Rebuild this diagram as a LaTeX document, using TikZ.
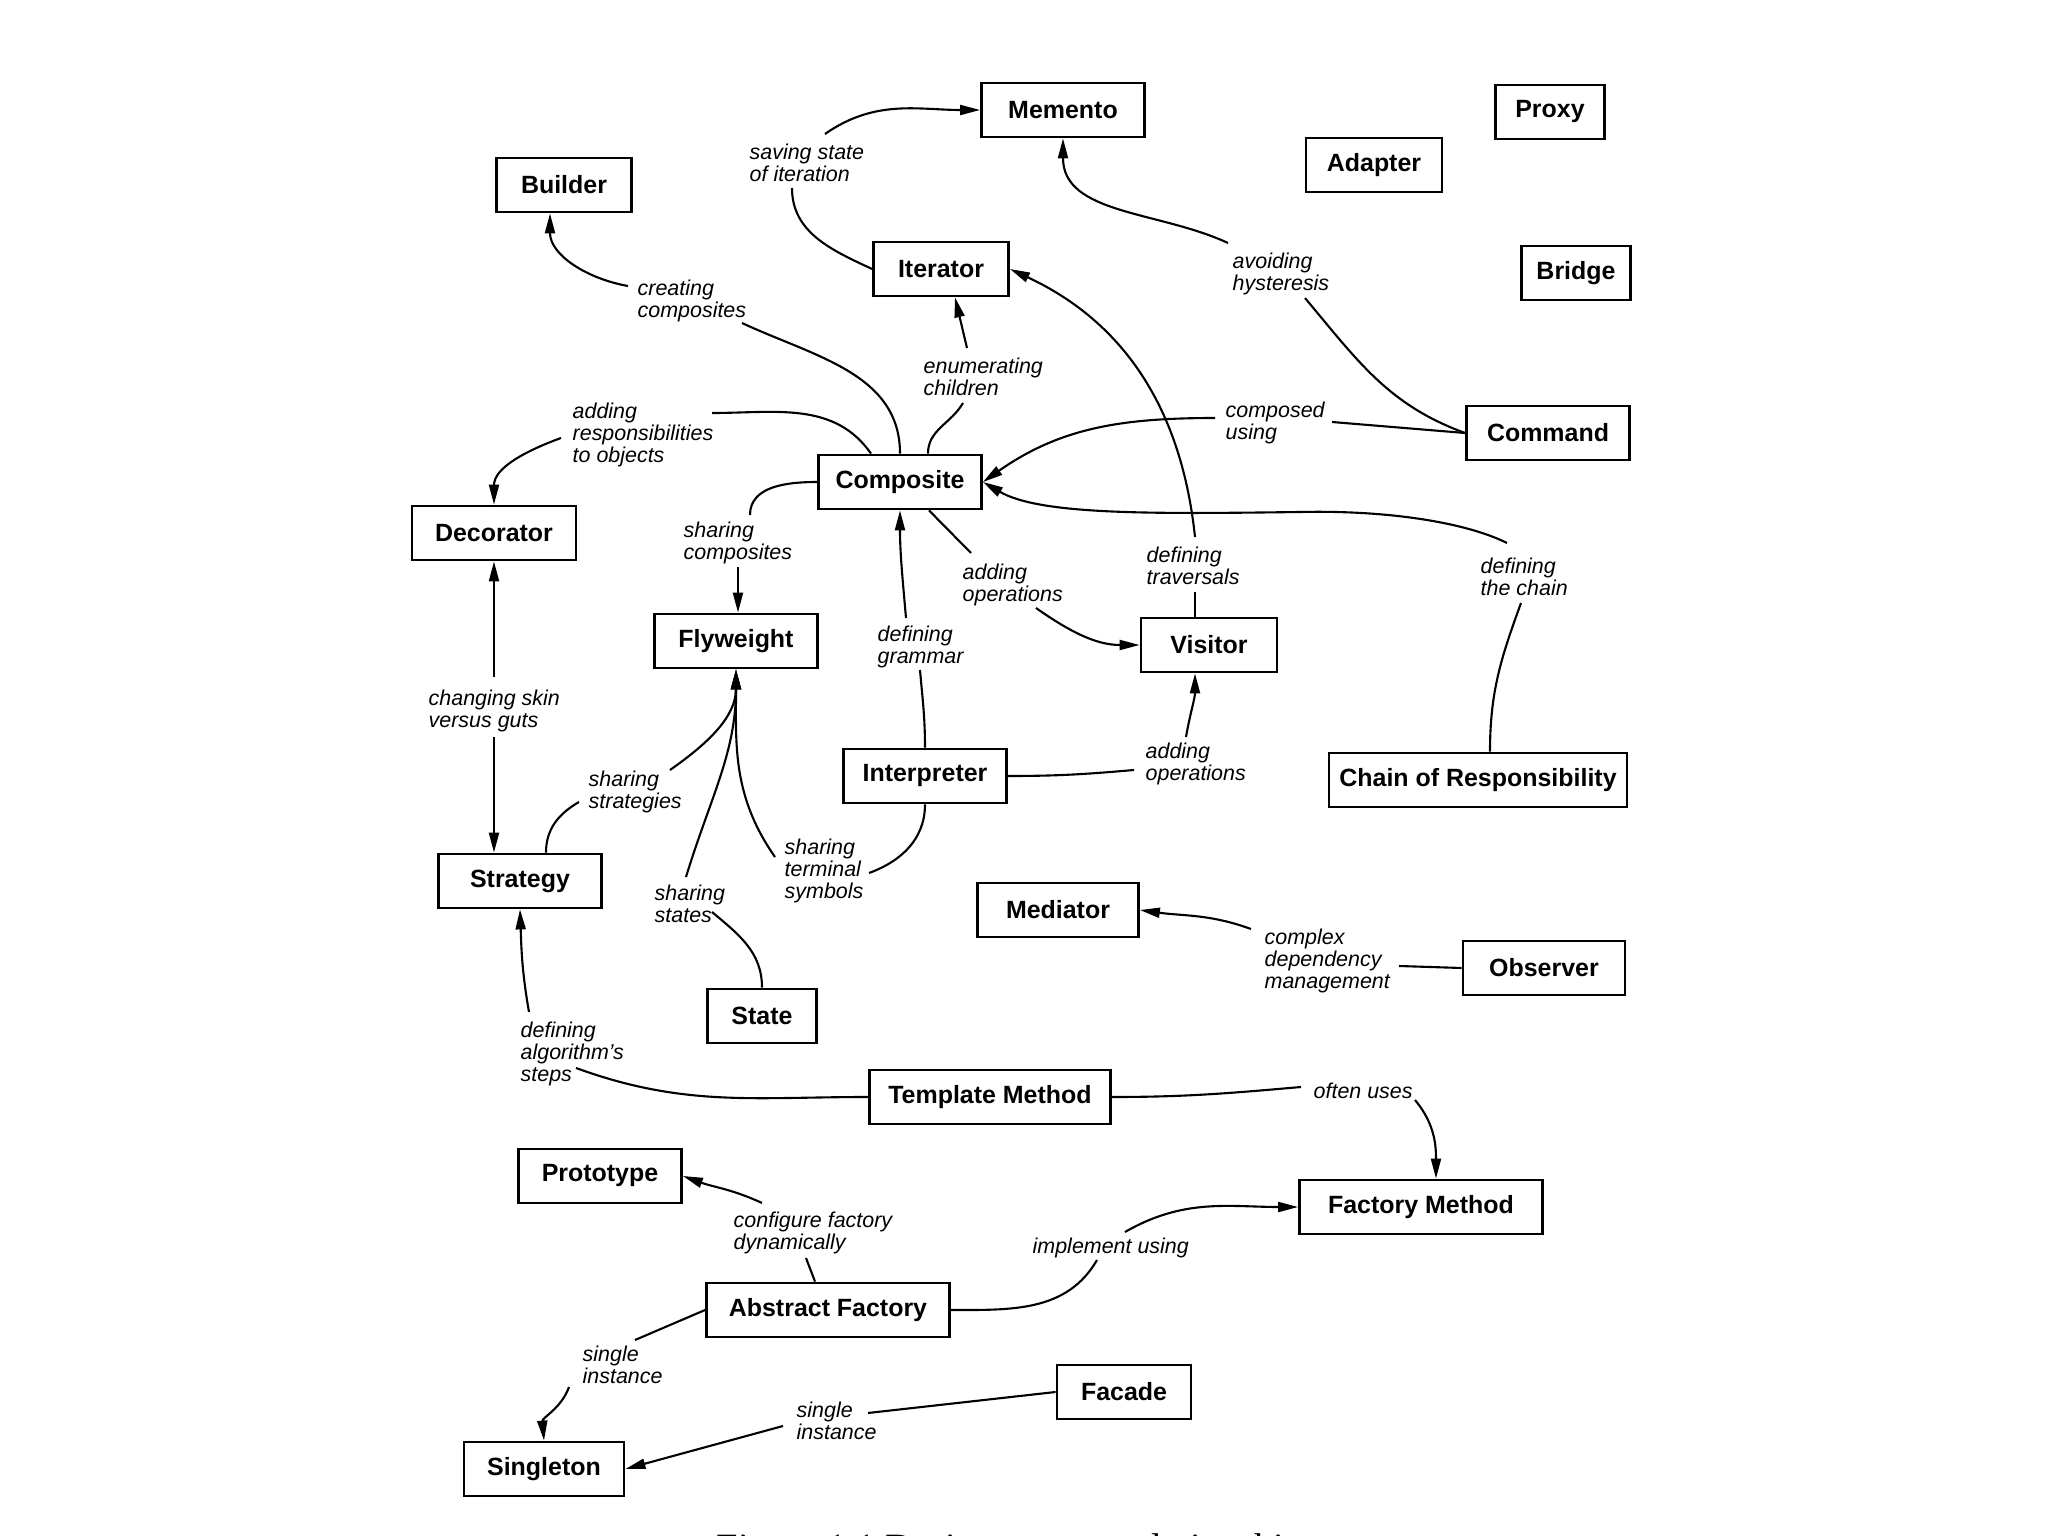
\documentclass[tikz,border=0pt]{standalone}
\usepackage{fontspec}
\setmainfont{Liberation Sans}
\newfontfamily\capfont{Liberation Serif}
\usetikzlibrary{arrows.meta}

\begin{document}
\begin{tikzpicture}[
	pat/.style={draw,line width=0.8pt,inner sep=0,minimum height=5.4mm,font=\bfseries\fontsize{7.1}{8.5}\selectfont},
	lab/.style={anchor=north west,inner sep=0,align=left,font=\itshape\fontsize{6.1}{6.3}\selectfont},
	link/.style={line width=0.6pt},
	arr/.style={line width=0.6pt,-{Triangle[length=2mm,width=1mm]}}]
	\useasboundingbox (0,0) rectangle (20.48,-15.36);
	\clip (0,0) rectangle (20.48,-15.36);
	\node[pat,minimum width=16.3mm] (memento) at (10.63,-1.10) {Memento};
	\node[pat,minimum width=10.9mm] (proxy) at (15.50,-1.12) {Proxy};
	\node[pat,minimum width=13.6mm] (adapter) at (13.74,-1.65) {Adapter};
	\node[pat,minimum width=10.9mm] (bridge) at (15.76,-2.73) {Bridge};
	\node[pat,minimum width=16.3mm] (command) at (15.48,-4.33) {Command};
	\node[pat,minimum width=13.5mm] (builder) at (5.64,-1.85) {Builder};
	\node[pat,minimum width=13.5mm] (iterator) at (9.41,-2.69) {Iterator};
	\node[pat,minimum width=16.3mm] (composite) at (9.00,-4.82) {Composite};
	\node[pat,minimum width=16.4mm] (decorator) at (4.94,-5.33) {Decorator};
	\node[pat,minimum width=16.3mm] (flyweight) at (7.36,-6.41) {Flyweight};
	\node[pat,minimum width=13.6mm] (visitor) at (12.09,-6.45) {Visitor};
	\node[pat,minimum width=16.3mm] (interpreter) at (9.25,-7.76) {Interpreter};
	\node[pat,minimum width=29.8mm] (chain) at (14.78,-7.80) {Chain of Responsibility};
	\node[pat,minimum width=16.3mm] (strategy) at (5.20,-8.81) {Strategy};
	\node[pat,minimum width=10.9mm] (state) at (7.62,-10.16) {State};
	\node[pat,minimum width=16.1mm] (mediator) at (10.58,-9.10) {Mediator};
	\node[pat,minimum width=16.2mm] (observer) at (15.44,-9.68) {Observer};
	\node[pat,minimum width=24.1mm] (template) at (9.90,-10.97) {Template Method};
	\node[pat,minimum width=24.3mm] (factory) at (14.21,-12.07) {Factory Method};
	\node[pat,minimum width=16.3mm] (prototype) at (6.00,-11.76) {Prototype};
	\node[pat,minimum width=24.3mm] (abstract) at (8.28,-13.10) {Abstract Factory};
	\node[pat,minimum width=13.4mm] (facade) at (11.24,-13.92) {Facade};
	\node[pat,minimum width=16.0mm] (singleton) at (5.44,-14.69) {Singleton};
	\node[lab] (l1) at (7.49,-1.43) {saving state\\of iteration};
	\node[lab] (l2) at (6.37,-2.79) {creating\\composites};
	\node[lab] (l3) at (9.23,-3.57) {enumerating\\children};
	\node[lab] (l4) at (12.32,-2.52) {avoiding\\hysteresis};
	\node[lab] (l5) at (12.25,-4.01) {composed\\using};
	\node[lab] (l6) at (5.72,-4.02) {adding\\responsibilities\\to objects};
	\node[lab] (l7) at (6.83,-5.21) {sharing\\composites};
	\node[lab] (l8) at (9.62,-5.63) {adding\\operations};
	\node[lab] (l9) at (11.46,-5.46) {defining\\traversals};
	\node[lab] (l10) at (14.80,-5.57) {defining\\the chain};
	\node[lab] (l11) at (8.77,-6.25) {defining\\grammar};
	\node[lab] (l12) at (11.45,-7.42) {adding\\operations};
	\node[lab] (l13) at (4.28,-6.89) {changing skin\\versus guts};
	\node[lab] (l14) at (5.88,-7.70) {sharing\\strategies};
	\node[lab] (l15) at (7.84,-8.38) {sharing\\terminal\\symbols};
	\node[lab] (l16) at (6.54,-8.84) {sharing\\states};
	\node[lab] (l17) at (12.64,-9.28) {complex\\dependency\\management};
	\node[lab] (l18) at (5.20,-10.21) {defining\\algorithm's\\steps};
	\node[lab] (l19) at (13.13,-10.82) {often uses};
	\node[lab] (l20) at (7.33,-12.11) {configure factory\\dynamically};
	\node[lab] (l21) at (10.32,-12.37) {implement using};
	\node[lab] (l22) at (5.82,-13.45) {single\\instance};
	\node[lab] (l23) at (7.96,-14.01) {single\\instance};
	\node[anchor=north west,inner sep=0,font=\capfont\fontsize{11}{13}\selectfont] (caption) at (7.16,-15.33) {Figure 1.1 Design pattern relationships};
	\coordinate (a1) at (7.92,-1.88);
	\coordinate (a2) at (8.25,-1.34);
	\coordinate (b1) at (7.42,-3.23);
	\coordinate (b2) at (6.28,-2.86);
	\coordinate (c1) at (9.63,-4.03);
	\coordinate (c2) at (9.67,-3.48);
	\coordinate (d1) at (7.12,-4.13);
	\coordinate (d2) at (5.61,-4.38);
	\coordinate (e1) at (7.50,-5.15);
	\coordinate (e2) at (7.38,-5.67);
	\coordinate (f1) at (9.71,-5.53);
	\coordinate (f2) at (10.36,-6.08);
	\coordinate (g1) at (9.20,-6.70);
	\coordinate (g2) at (9.06,-6.18);
	\coordinate (h1) at (11.95,-5.92);
	\coordinate (h2) at (11.95,-5.37);
	\coordinate (i1) at (13.32,-4.22);
	\coordinate (i2) at (12.15,-4.18);
	\coordinate (j1) at (13.05,-2.98);
	\coordinate (j2) at (12.28,-2.43);
	\coordinate (k1) at (15.21,-6.03);
	\coordinate (k2) at (15.07,-5.43);
	\coordinate (m1) at (13.01,-10.87);
	\coordinate (m2) at (14.15,-11.00);
	\coordinate (n1) at (5.76,-10.68);
	\coordinate (n2) at (5.29,-10.12);
	\coordinate (o1) at (4.94,-6.77);
	\coordinate (o2) at (4.94,-7.37);
	\coordinate (p1) at (5.79,-8.02);
	\coordinate (p2) at (6.70,-7.70);
	\coordinate (q1) at (7.12,-9.12);
	\coordinate (q2) at (6.86,-8.77);
	\coordinate (r1) at (8.69,-8.73);
	\coordinate (r2) at (7.75,-8.57);
	\coordinate (s1) at (11.34,-7.70);
	\coordinate (s2) at (11.86,-7.37);
	\coordinate (t1) at (8.06,-12.58);
	\coordinate (t2) at (7.62,-12.03);
	\coordinate (u1) at (10.97,-12.60);
	\coordinate (u2) at (11.25,-12.32);
	\coordinate (v1) at (6.35,-13.40);
	\coordinate (v2) at (5.69,-13.87);
	\coordinate (w1) at (8.68,-14.13);
	\coordinate (w2) at (7.83,-14.26);
	\coordinate (x1) at (13.99,-9.66);
	\coordinate (x2) at (12.51,-9.29);
	\draw[link] (iterator.west) to[out=155,in=-90] (a1);
	\draw[arr] (a2) to[out=35,in=180] (memento.west);
	\draw[link] (composite.north) to[out=90,in=-25] (b1);
	\draw[arr] (b2) to[out=170,in=-90] ([xshift=-1.4mm]builder.south);
	\draw[link] ([xshift=2.8mm]composite.north) to[out=90,in=-120] (c1);
	\draw[arr] (c2) -- ([xshift=1.4mm]iterator.south);
	\draw[link] ([xshift=-2.9mm]composite.north) to[out=125,in=0] (d1);
	\draw[arr] (d2) to[out=200,in=90] (decorator.north);
	\draw[link] (composite.west) to[out=180,in=90] (e1);
	\draw[arr] (e2) -- (e2 |- flyweight.north);
	\draw[link] ([xshift=2.9mm]composite.south) -- (f1);
	\draw[arr] (f2) to[out=-35,in=180] (visitor.west);
	\draw[link] (interpreter.north) to[out=90,in=-85] (g1);
	\draw[arr] (g2) to[out=95,in=-90] (composite.south);
	\draw[link] ([xshift=-1.4mm]visitor.north) -- (h1);
	\draw[arr] (h2) to[out=96,in=-25] (iterator.east);
	\draw[link] (command.west) -- (i1);
	\draw[arr] (i2) to[out=180,in=35] (composite.east);
	\draw[link] (command.west) to[out=160,in=-50] (j1);
	\draw[arr] (j2) to[out=155,in=-90] (memento.south);
	\draw[link] ([xshift=1.2mm]chain.north) to[out=90,in=-110] (k1);
	\draw[arr] (k2) .. controls (14.67,-5.23) and (13.9,-5.10) .. (13.0,-5.12) .. controls (11.5,-5.14) and (10.4,-5.15) .. (composite.east);
	\draw[link] (observer.west) -- (x1);
	\draw[arr] (x2) to[out=160,in=-8] (mediator.east);
	\draw[link] (template.east) to[out=0,in=185] (m1);
	\draw[arr] (m2) to[out=-50,in=90] ([xshift=1.5mm]factory.north);
	\draw[link] (template.west) to[out=180,in=-20] (n1);
	\draw[arr] (n2) to[out=100,in=-88] (strategy.south);
	\draw[arr] (o1) -- (decorator.south);
	\draw[arr] (o2) -- (o2 |- strategy.north);
	\draw[link] ([xshift=2.6mm]strategy.north) to[out=90,in=-150] (p1);
	\draw[arr] (p2) to[out=35,in=-90] (flyweight.south);
	\draw[link] (state.north) to[out=90,in=-40] (q1);
	\draw[arr] (q2) to[out=73,in=-90] (flyweight.south);
	\draw[link] (interpreter.south) to[out=-90,in=20] (r1);
	\draw[arr] (r2) to[out=125,in=-90] (flyweight.south);
	\draw[link] (interpreter.east) to[out=0,in=185] (s1);
	\draw[arr] (s2) to[out=80,in=-90] ([xshift=-1.4mm]visitor.south);
	\draw[link] ([xshift=-1.3mm]abstract.north) -- (t1);
	\draw[arr] (t2) to[out=155,in=-20] (prototype.east);
	\draw[link] (abstract.east) to[out=0,in=-120] (u1);
	\draw[arr] (u2) to[out=30,in=180] (factory.west);
	\draw[link] (abstract.west) -- (v1);
	\draw[arr] (v2) to[out=-110,in=95] (singleton.north);
	\draw[link] (facade.west) -- (w1);
	\draw[arr] (w2) -- (singleton.east);
\end{tikzpicture}
\end{document}
